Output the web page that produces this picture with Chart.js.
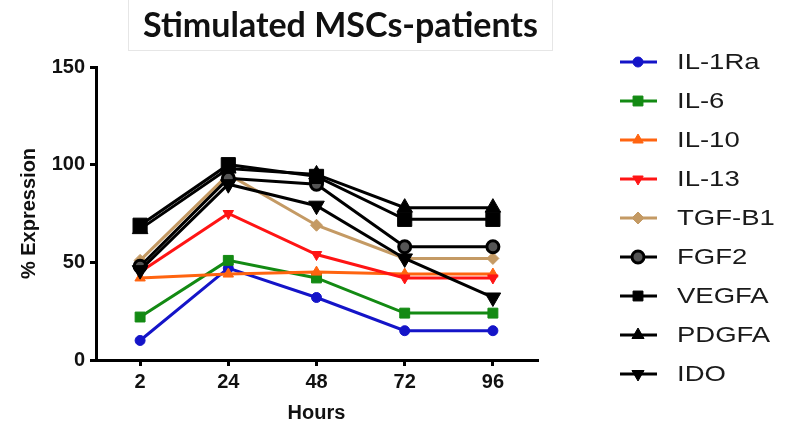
<!DOCTYPE html>
<html>
<head>
<meta charset="utf-8">
<script src="https://cdn.jsdelivr.net/npm/chart.js@4/dist/chart.umd.min.js"></script>
<style>
html,body{margin:0;padding:0;background:#fff}
#wrap{position:relative;width:787px;height:427px}
#titulo{position:absolute;left:128px;top:-1px;width:425px;height:52px;border:1px solid #e6e6e6;border-top:none;
font-family:Lato,'Open Sans',sans-serif;font-weight:bold;font-size:34px;color:#111;
text-align:center;line-height:50px;box-sizing:border-box}
canvas{position:absolute;left:0;top:0}
</style>
</head>
<body>
<div id="wrap">
<canvas id="grafico" width="787" height="427"></canvas>
<div id="titulo">Stimulated MSCs-patients</div>
</div>
<script>
let horas=['2','24','48','72','96']

let nomes=['IL-1Ra','IL-6','IL-10','IL-13','TGF-B1','FGF2','VEGFA','PDGFA','IDO']

let il1ra=[10,47,32,15,15]
let il6=[22,51,42,24,24]
let il10=[42,44,45,44,44]
let il13=[45,75,54,42,42]
let tgfb1=[51,95,69,52,52]
let fgf2=[48,93,90,58,58]
let vegfa=[69,100,94,72,72]
let pdgfa=[67,98,95,78,78]
let ido=[46,90,79,52,32]

let valores=[il1ra,il6,il10,il13,tgfb1,fgf2,vegfa,pdgfa,ido]

let yTicks=[0,50,100,150]

// estilo de cada serie: cor, marcador, raio, rotacao, preenchimento
let estilos=[
{cor:'#1414c8',ponto:'circle',raio:5,rot:0},
{cor:'#138a13',ponto:'rect',raio:7,rot:0},
{cor:'#ff6410',ponto:'triangle',raio:6,rot:0},
{cor:'#ff1414',ponto:'triangle',raio:6,rot:180},
{cor:'#c49a64',ponto:'rectRot',raio:6,rot:0},
{cor:'#000',ponto:'circle',raio:6,rot:0,fundo:'#555',borda:3},
{cor:'#000',ponto:'rect',raio:10,rot:0},
{cor:'#000',ponto:'triangle',raio:9,rot:0},
{cor:'#000',ponto:'triangle',raio:9,rot:180}
]

let datasets=valores.map((v,i)=>{
let e=estilos[i]
return{
label:nomes[i],
data:v,
borderColor:e.cor,
backgroundColor:e.fundo||e.cor,
borderWidth:3,
pointStyle:e.ponto,
pointRadius:e.raio,
pointRotation:e.rot,
pointBorderColor:e.cor,
pointBackgroundColor:e.fundo||e.cor,
pointBorderWidth:e.borda||1,
tension:0,
order:nomes.length-i
}
})

// legenda desenhada a mao: linha + marcador + texto
let legendaLateral={
id:'legendaLateral',
afterDraw(chart){
let ctx=chart.ctx
ctx.save()
chart.data.datasets.forEach((d,i)=>{
let y=62+i*39
ctx.strokeStyle=d.borderColor
ctx.lineWidth=3
ctx.beginPath()
ctx.moveTo(620,y)
ctx.lineTo(657,y)
ctx.stroke()
ctx.fillStyle=d.pointBackgroundColor
ctx.strokeStyle=d.pointBorderColor
ctx.lineWidth=d.pointBorderWidth
Chart.helpers.drawPoint(ctx,{pointStyle:d.pointStyle,rotation:d.pointRotation,radius:Math.min(d.pointRadius,7),borderWidth:d.pointBorderWidth},638,y)
ctx.save()
ctx.translate(677,y+1)
ctx.scale(1.25,1)
ctx.fillStyle='#1a1a1a'
ctx.font='22px "Liberation Sans", Arial, sans-serif'
ctx.textBaseline='middle'
ctx.textAlign='left'
ctx.fillText(d.label,0,0)
ctx.restore()
})
ctx.restore()
}
}

let fonteEixo={family:'"Liberation Sans", Arial, sans-serif',weight:'bold',size:20}

new Chart(document.getElementById('grafico'),{
type:'line',
data:{
labels:horas,
datasets:datasets
},
options:{
responsive:false,
animation:false,
layout:{
padding:{top:67,left:0,right:250,bottom:0}
},
plugins:{
legend:{display:false},
tooltip:{enabled:false}
},
scales:{
x:{
offset:true,
grid:{display:true,drawOnChartArea:false,drawTicks:true,tickLength:6,color:'#000',lineWidth:3,offset:false},
border:{display:true,color:'#000',width:3},
ticks:{color:'#111',font:fonteEixo,padding:4},
title:{display:true,text:'Hours',color:'#111',font:fonteEixo,padding:{top:0,bottom:2}},
afterFit(s){
s.height=67
s.paddingLeft=0
s.paddingRight=0
}
},
y:{
min:0,
max:150,
afterBuildTicks(s){
s.ticks=yTicks.map(v=>({value:v}))
},
grid:{display:true,drawOnChartArea:false,drawTicks:true,tickLength:6,color:'#000',lineWidth:3},
border:{display:true,color:'#000',width:3},
ticks:{color:'#111',font:fonteEixo,padding:5},
title:{display:true,text:'% Expression',color:'#111',font:fonteEixo,padding:{top:17,bottom:0}},
afterFit(s){
s.width=96
s.paddingTop=0
s.paddingBottom=0
}
}
}
},
plugins:[legendaLateral]
})
</script>
</body>
</html>
